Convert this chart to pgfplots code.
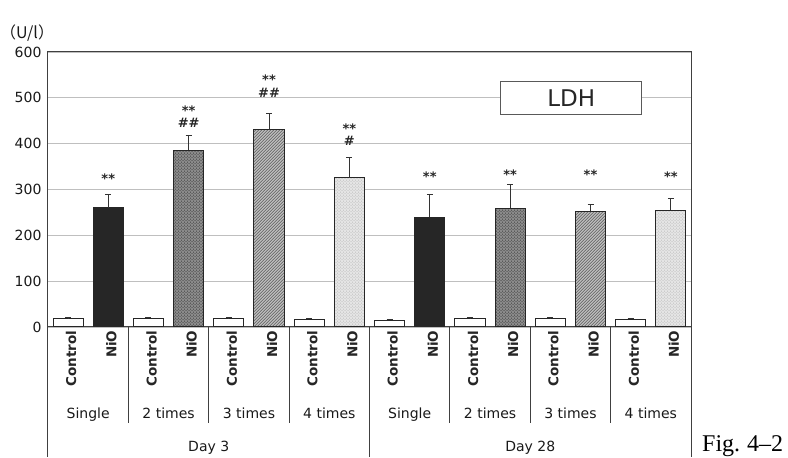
\documentclass[border=0pt]{standalone}
\usepackage{fontspec}
\setmainfont{DejaVu Sans}
\newfontfamily\cjk{Noto Sans CJK JP}
\newfontfamily\serifjp{Liberation Serif}
\usepackage{pgfplots}
\pgfplotsset{compat=1.18}
\usetikzlibrary{patterns}
\usepackage{pgfplotstable}

\pgfplotstableread{
x y e
0 18 2
2 19 2
4 18 2
6 17 2
8 15 2
10 18 2
12 18 2
14 17 2
}\control

\pgfplotstableread{
x y e
1 260 30
9 239 51
}\nioA
\pgfplotstableread{
x y e
3 386 33
11 259 51
}\nioB
\pgfplotstableread{
x y e
5 430 36
13 252 16
}\nioC
\pgfplotstableread{
x y e
7 326 44
15 255 26
}\nioD

\begin{document}
\begin{tikzpicture}[
  star/.style={anchor=base, font=\bfseries\fontsize{13}{14}\selectfont, text=black!85, inner sep=0pt},
  grp/.style={anchor=base, font=\fontsize{14}{15}\selectfont, text=black!90},
  tline/.style={black!75, line width=1pt},
]
\begin{axis}[
  scale only axis, width=643pt, height=275pt,
  xmin=-0.5, xmax=15.5, ymin=0, ymax=600,
  ytick={0,100,...,600},
  ymajorgrids, grid style={black!25, line width=0.9pt},
  major tick length=0pt,
  axis line style={black!75, line width=1pt},
  xtick={0,...,15},
  xticklabels={Control,NiO,Control,NiO,Control,NiO,Control,NiO,Control,NiO,Control,NiO,Control,NiO,Control,NiO},
  xticklabel style={rotate=90, anchor=east, yshift=-3pt, font=\bfseries\fontsize{13.5}{15}\selectfont, text=black!85},
  yticklabel style={font=\fontsize{14}{15}\selectfont, text=black!90, xshift=-3pt},
  /pgf/number format/assume math mode=true,
  clip=false,
  ybar, bar width=0.75,
  error bars/y dir=plus, error bars/y explicit,
  error bars/error bar style={black!80, line width=0.9pt},
  error bars/error mark options={rotate=90, mark size=3pt, black!80, line width=0.9pt},
]
\addplot[bar shift=0pt, draw=black!85, line width=1pt, fill=white] table[x=x, y=y, y error=e] {\control};
\addplot[bar shift=0pt, draw=black!85, line width=1pt, fill=black!85] table[x=x, y=y, y error=e] {\nioA};
\addplot[bar shift=0pt, draw=black!85, line width=1pt, fill=black!45, postaction={pattern=crosshatch dots, pattern color=black!85}] table[x=x, y=y, y error=e] {\nioB};
\addplot[bar shift=0pt, draw=black!85, line width=1pt, fill=black!25, postaction={pattern=north east lines, pattern color=black!65}] table[x=x, y=y, y error=e] {\nioC};
\addplot[bar shift=0pt, draw=black!85, line width=1pt, fill=black!10, postaction={pattern=crosshatch dots, pattern color=black!30}] table[x=x, y=y, y error=e] {\nioD};

% significance marks
\node[star, yshift=-7.3pt] at (axis cs:1,329) {**};
\node[star, yshift=-7.3pt] at (axis cs:3,478) {**};
\node[star, yshift=-4.7pt] at (axis cs:3,445) {\#\#};
\node[star, yshift=-7.3pt] at (axis cs:5,544) {**};
\node[star, yshift=-4.7pt] at (axis cs:5,511) {\#\#};
\node[star, yshift=-7.3pt] at (axis cs:7,439) {**};
\node[star, yshift=-4.7pt] at (axis cs:7,406) {\#};
\node[star, yshift=-7.3pt] at (axis cs:9,334) {**};
\node[star, yshift=-7.3pt] at (axis cs:11,338) {**};
\node[star, yshift=-7.3pt] at (axis cs:13,338) {**};
\node[star, yshift=-7.3pt] at (axis cs:15,334) {**};

% LDH box
\node[draw=black!65, fill=white, line width=0.9pt, minimum width=141pt, minimum height=33pt, inner sep=0pt, font=\fontsize{23}{25}\selectfont, text=black!85] at (axis cs:12.52,500) {LDH};

% table lines below
\draw[tline] (axis cs:-0.5,0) -- ++(0pt,-130pt);
\draw[tline] (axis cs:7.5,0) -- ++(0pt,-130pt);
\draw[tline] (axis cs:15.5,0) -- ++(0pt,-130pt);
\draw[tline] (axis cs:1.5,0) -- ++(0pt,-96pt);
\draw[tline] (axis cs:3.5,0) -- ++(0pt,-96pt);
\draw[tline] (axis cs:5.5,0) -- ++(0pt,-96pt);
\draw[tline] (axis cs:9.5,0) -- ++(0pt,-96pt);
\draw[tline] (axis cs:11.5,0) -- ++(0pt,-96pt);
\draw[tline] (axis cs:13.5,0) -- ++(0pt,-96pt);

% group labels
\node[grp, yshift=-92pt] at (axis cs:0.5,0) {Single};
\node[grp, yshift=-92pt] at (axis cs:2.5,0) {2 times};
\node[grp, yshift=-92pt] at (axis cs:4.5,0) {3 times};
\node[grp, yshift=-92pt] at (axis cs:6.5,0) {4 times};
\node[grp, yshift=-92pt] at (axis cs:8.5,0) {Single};
\node[grp, yshift=-92pt] at (axis cs:10.5,0) {2 times};
\node[grp, yshift=-92pt] at (axis cs:12.5,0) {3 times};
\node[grp, yshift=-92pt] at (axis cs:14.5,0) {4 times};
\node[grp, yshift=-124.5pt] at (axis cs:3.5,0) {Day 3};
\node[grp, yshift=-124.5pt] at (axis cs:11.5,0) {Day 28};

% unit label and figure label
\node[anchor=west, inner sep=0pt, font=\cjk\fontsize{16}{17}\selectfont, text=black!90, xshift=-48pt, yshift=19pt] at (rel axis cs:0,1) {（U/l）};
\node[anchor=base west, inner sep=0pt, font=\serifjp\fontsize{24}{26}\selectfont, xshift=11pt, yshift=-125pt] at (rel axis cs:1,0) {Fig.\hspace{7pt}4–2};

% bounding box
\path (rel axis cs:0,0) ++(-48pt,-130pt) rectangle ++(788pt,457pt);
\end{axis}
\end{tikzpicture}
\end{document}
